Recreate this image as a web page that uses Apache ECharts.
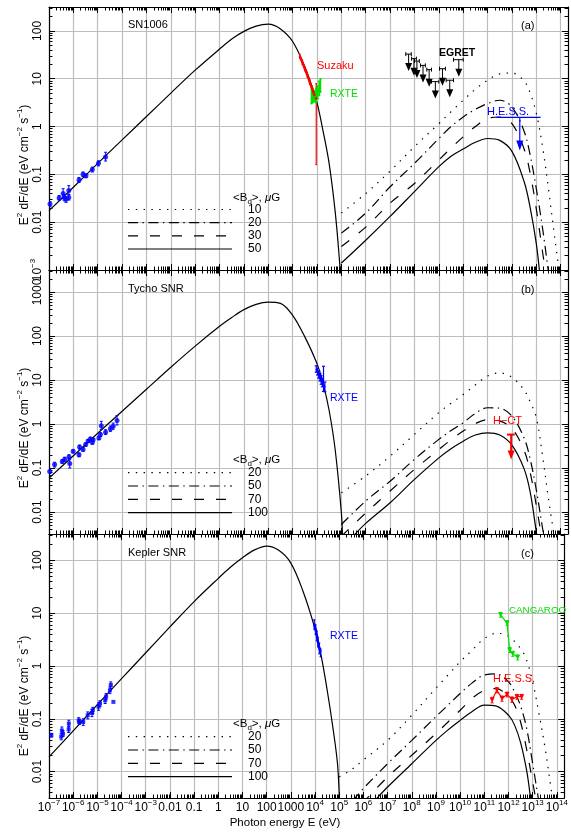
<!DOCTYPE html>
<html><head><meta charset="utf-8">
<script src="https://cdn.jsdelivr.net/npm/echarts@6/dist/echarts.min.js"></script>
<style>html,body{margin:0;padding:0;background:#fff}#c{width:571px;height:839px}</style>
</head><body><div id="c"></div><script>
// ---------------- data ----------------
const xMajor = [1e-7,1e-6,1e-5,1e-4,1e-3,1e-2,1e-1,1,10,100,1e3,1e4,1e5,1e6,1e7,1e8,1e9,1e10,1e11,1e12,1e13,1e14];
const yMajorA = [1e-3,1e-2,0.1,1,10,100];
const yMajorB = [1e-2,0.1,1,10,100,1000];
const yMajorC = [1e-2,0.1,1,10,100];
const panelNames = ['SN1006','Tycho SNR','Kepler SNR'];
const panelTags = ['(a)','(b)','(c)'];
const legendValsA = ['10','20','30','50'];
const legendValsB = ['20','50','70','100'];
const legendValsC = ['20','50','70','100'];

// Panel (a) SN1006
const syncA = [[1e-7,0.0174],[1e-6,0.0537],[1e-5,0.17],[1e-4,0.525],[1e-3,1.62],[1e-2,5.0],[0.1,15.1],[1,41.7],[3.16,67.6],[10,97.7],[31.6,126],[100,138],[316,110],[1000,60],[3160,17.8],[5620,7.94],[1e4,3.16],[1.78e4,0.794],[3.16e4,0.166],[5.62e4,0.0158],[8.5e4,1.41e-3],[1e5,4e-4]];
const icA10 = [[1e5,0.0155],[1e6,0.0398],[1e7,0.117],[1e8,0.38],[1e9,1.15],[3.16e9,2.04],[1e10,3.55],[3.16e10,6.03],[1e11,9.33],[3.16e11,12.6],[1e12,13.2],[3.16e12,8.91],[5.62e12,5.01],[1e13,1.9],[1.78e13,0.398],[3.16e13,0.05],[5.62e13,5e-3],[8.9e13,8.9e-4]];
const icA20 = [[1e5,5.9e-3],[1e6,0.0155],[1e7,0.055],[1e8,0.17],[1e9,0.562],[3.16e9,1.0],[1e10,1.585],[3.16e10,2.29],[1e11,3.02],[3.16e11,3.55],[1e12,2.57],[3.16e12,0.794],[5.62e12,0.251],[1e13,0.05],[1.78e13,7.9e-3],[3.16e13,8.9e-4]];
const icA30 = [[1e5,3.1e-3],[1e6,7.9e-3],[1e7,0.0251],[1e8,0.0646],[1e9,0.2],[3.16e9,0.355],[1e10,0.61],[3.16e10,1.0],[1e11,1.48],[3.16e11,1.585],[1e12,1.15],[3.16e12,0.339],[5.62e12,0.105],[1e13,0.019],[1.78e13,2.5e-3],[2.5e13,7.9e-4]];
const icA50 = [[1e5,1.4e-3],[1e6,4.2e-3],[1e7,0.0132],[1e8,0.0437],[1e9,0.145],[3.16e9,0.24],[1e10,0.339],[3.16e10,0.468],[1e11,0.562],[3.16e11,0.513],[1e12,0.302],[3.16e12,0.0708],[5.62e12,0.02],[1e13,3.55e-3],[1.4e13,7.9e-4]];
const radioA = [[1.1e-7,0.024,0.021,0.027],[2.6e-7,0.032,0.029,0.036],[3.8e-7,0.040,0.032,0.050],[4.2e-7,0.033,0.028,0.038],[5.0e-7,0.030,0.026,0.034],[6.5e-7,0.046,0.038,0.058],[6.5e-7,0.033,0.029,0.037],[1.7e-6,0.076,0.068,0.086],[2.5e-6,0.100,0.090,0.112],[3.3e-6,0.093,0.085,0.102],[6.0e-6,0.126,0.112,0.142],[1.07e-5,0.170,0.150,0.192],[2.1e-5,0.23,0.19,0.29]];
const suzakuA = [[1950,30,27,33],[2500,22,20,24.5],[3200,16,14.5,17.5],[4000,12,10.8,13.2],[5000,8.6,7.7,9.6],[6300,6.2,5.4,7],[7800,4.6,4,5.3],[9300,3.7,0.16,7.9]];
const rxteA = [[5900,4.47,3.02,7.08],[6600,4.17,3.16,6.31],[7400,3.98,3.31,5.25],[8300,4.17,3.31,5.62],[9300,4.37,3.16,6.31],[10700,5.01,3.8,7.08],[12300,6.03,4.47,8.91],[13800,7.08,5.25,10]];
const egretA = [[5.75e7,32.7,4.4e7,7.4e7],[9.5e7,26.3,7.6e7,1.2e8],[1.26e8,23.4,1e8,1.58e8],[2.24e8,19,1.78e8,2.8e8],[4e8,15.5,3.2e8,5e8],[7.2e8,8.7,5e8,1e9],[1.41e9,16.2,1.07e9,1.86e9],[2.8e9,9.3,2e9,4e9],[6.6e9,25,4e9,1e10]];
const hessA = [[2.1e12,1.55,2.3e11,1.5e13]];

// Panel (b) Tycho
const syncB = [[1e-7,0.059],[1e-6,0.19],[1e-5,0.617],[1e-4,1.95],[1e-3,6.17],[1e-2,19.5],[0.1,58.9],[1,166],[3.16,263],[10,398],[31.6,525],[100,589],[316,550],[1000,295],[3160,95.5],[1e4,23.4],[1.78e4,8.3],[3.16e4,2.0],[5.62e4,0.25],[1e5,9.5e-3],[1.12e5,2.5e-3]];
const icB20 = [[1e5,0.0275],[1e6,0.066],[1e7,0.186],[1e8,0.582],[1e9,1.82],[3.16e9,2.95],[1e10,4.68],[3.16e10,7.76],[1e11,12.3],[3.16e11,14.5],[1e12,11.5],[3.16e12,5.89],[5.62e12,3.16],[1e13,1.41],[1.78e13,0.2],[3.16e13,0.02],[5.62e13,2.5e-3]];
const icB50 = [[1e5,5.2e-3],[1e6,0.0178],[1e7,0.05],[1e8,0.158],[1e9,0.447],[3.16e9,0.708],[1e10,1.07],[3.16e10,1.74],[1e11,2.34],[3.16e11,2.29],[1e12,1.51],[3.16e12,0.479],[5.62e12,0.158],[1e13,0.0316],[1.78e13,4.5e-3],[2.24e13,2e-3]];
const icB70 = [[1e5,2.8e-3],[1e6,9.5e-3],[1e7,0.03],[1e8,0.093],[1e9,0.263],[3.16e9,0.437],[1e10,0.692],[3.16e10,1.02],[1e11,1.26],[3.16e11,1.175],[1e12,0.794],[3.16e12,0.251],[5.62e12,0.0794],[1e13,0.0141],[1.58e13,3.16e-3],[2e13,1.58e-3]];
const icB100 = [[3e5,2.8e-3],[1e6,5.5e-3],[1e7,0.0162],[1e8,0.055],[1e9,0.17],[3.16e9,0.275],[1e10,0.407],[3.16e10,0.562],[1e11,0.631],[3.16e11,0.562],[1e12,0.331],[3.16e12,0.0955],[5.62e12,0.0282],[1e13,3.55e-3],[1.26e13,1.6e-3]];
const radioB = [[1.07e-7,0.083,0.075,0.092],[1.7e-7,0.12,0.105,0.135],[3.5e-7,0.141,0.128,0.155],[4.4e-7,0.158,0.142,0.175],[6.6e-7,0.178,0.16,0.2],[7.1e-7,0.126,0.10,0.16],[9.8e-7,0.24,0.22,0.26],[1.7e-6,0.20,0.18,0.22],[1.8e-6,0.30,0.27,0.33],[2.5e-6,0.263,0.24,0.29],[3.2e-6,0.34,0.31,0.37],[4.0e-6,0.41,0.38,0.44],[5.0e-6,0.457,0.42,0.5],[6.0e-6,0.38,0.35,0.41],[6.5e-6,0.436,0.4,0.47],[1.12e-5,0.48,0.44,0.52],[1.29e-5,0.575,0.52,0.63],[1.4e-5,0.91,0.75,1.15],[2.1e-5,0.65,0.58,0.74],[3.3e-5,0.78,0.68,0.9],[4.3e-5,0.89,0.76,1.05],[6.2e-5,1.2,0.95,1.55]];
const rxteB = [[9300,17.8,15,21],[10500,15.5,13,18.5],[11800,13.5,11,16],[13200,11.5,9.5,14],[14800,10,8,12.5],[16500,8.7,7,11],[18500,7.8,5.5,20.5],[21000,6.8,5.4,9]];
const hctB = [[9.3e11,0.575,6.3e11,1.3e12]];

// Panel (c) Kepler
const syncC = [[1e-7,0.019],[1e-6,0.059],[1e-5,0.186],[1e-4,0.575],[1e-3,1.78],[1e-2,5.5],[0.1,16.6],[1,45.7],[3.16,74],[10,112],[31.6,158],[100,186],[316,155],[1000,89],[3160,26.3],[1e4,5.01],[1.78e4,1.585],[3.16e4,0.355],[5.62e4,0.063],[8.5e4,0.0141],[1e5,3.8e-3],[1.07e5,2e-3]];
const icC20 = [[1e5,7.9e-3],[3e5,0.0107],[1e6,0.0166],[1e7,0.039],[1e8,0.117],[1e9,0.38],[3.16e9,0.676],[1e10,1.2],[3.16e10,2.0],[1e11,3.31],[3.16e11,4.17],[1e12,3.63],[3.16e12,2.14],[5.62e12,1.29],[1e13,0.501],[1.78e13,0.132],[3.16e13,0.0302],[5.62e13,5.1e-3],[7.9e13,1.58e-3]];
const icC50 = [[3.5e5,2.75e-3],[1e6,4.8e-3],[1e7,0.0141],[1e8,0.039],[1e9,0.11],[3.16e9,0.182],[1e10,0.302],[3.16e10,0.479],[1e11,0.676],[3.16e11,0.708],[1e12,0.501],[1.78e12,0.324],[3.16e12,0.174],[5.62e12,0.066],[1e13,0.0141],[1.78e13,2.8e-3],[2.24e13,1.58e-3]];
const icC70 = [[9e5,2.5e-3],[1e7,7.9e-3],[1e8,0.0204],[1e9,0.0525],[3.16e9,0.087],[1e10,0.145],[3.16e10,0.245],[1e11,0.347],[3.16e11,0.372],[1e12,0.263],[1.78e12,0.182],[3.16e12,0.087],[5.62e12,0.0263],[1e13,6.3e-3],[1.58e13,2e-3]];
const icC100 = [[2.8e6,2.75e-3],[1e7,5.1e-3],[1e8,0.0141],[1e9,0.039],[3.16e9,0.0617],[1e10,0.0933],[3.16e10,0.138],[1e11,0.182],[3.16e11,0.174],[1e12,0.117],[1.78e12,0.0759],[3.16e12,0.0355],[5.62e12,0.0105],[7.9e12,3.55e-3],[1e13,1.58e-3]];
const radioC = [[1.26e-7,0.049,0.045,0.053],[3.2e-7,0.046,0.040,0.053],[3.4e-7,0.060,0.052,0.070],[3.8e-7,0.052,0.046,0.060],[6.5e-7,0.063,0.055,0.072],[6.6e-7,0.081,0.070,0.094],[1.7e-6,0.093,0.083,0.105],[1.8e-6,0.087,0.078,0.097],[2.6e-6,0.087,0.075,0.100],[4.0e-6,0.117,0.10,0.135],[6.0e-6,0.129,0.11,0.15],[6.5e-6,0.145,0.125,0.165],[1.12e-5,0.17,0.145,0.2],[1.29e-5,0.195,0.17,0.22],[2.1e-5,0.224,0.195,0.255],[2.3e-5,0.263,0.23,0.3],[3.3e-5,0.347,0.3,0.4],[3.6e-5,0.437,0.37,0.5],[4.6e-5,0.209,0.209,0.209]];
const rxteC = [[9300,6.3,5.0,7.5],[10500,5.0,4.0,6.0],[11800,3.8,3.0,4.6],[13200,2.9,2.3,3.5],[15000,2.2,1.7,2.7],[17000,1.8,1.5,2.1]];
const cangarooC = [[4.7e11,9.3,8.4,10.3],[8.7e11,6.5,5.9,7.2],[1.12e12,2.0,1.8,2.25],[1.5e12,1.7,1.52,1.9],[2.4e12,1.46,1.3,1.62]];
const hessC = [[2.1e11,0.226,0.2,0.255],[3.3e11,0.35,0.31,0.39],[5.4e11,0.243,0.215,0.27],[8.7e11,0.29,0.26,0.32],[1.38e12,0.233,0.205,0.26],[2.24e12,0.262,0.235,0.29],[3.5e12,0.262,0.235,0.29]];

// ---------------- layout / style ----------------
const FONT = '"Liberation Sans", Arial, Helvetica, sans-serif';
const X_MIN = 1e-7, X_MAX = 2e14;
const BLUE = '#0000ff', RED = '#ff0000', GREEN = '#00e000', GRID = '#bdbdbd';
const DOT = [1.4, 6.4], DASHDOT = [10, 4.5, 1.4, 4.5], DASH = [10, 12];
const panels = [
  {top: 7,   height: 263, yMin: 1e-3,    yMax: 316.23, yMajor: yMajorA},
  {top: 270, height: 264, yMin: 3.1623e-3, yMax: 3162.3, yMajor: yMajorB},
  {top: 534, height: 264, yMin: 3.1623e-3, yMax: 316.23, yMajor: yMajorC}
];

function minorsIn(lo, hi) {
  const out = [];
  for (let n = Math.floor(Math.log10(lo)) - 1; n <= Math.ceil(Math.log10(hi)); n++) {
    for (let k = 2; k <= 9; k++) {
      const v = Number((k * Math.pow(10, n)).toPrecision(3));
      if (v > lo * 1.0001 && v < hi * 0.9999) out.push(v);
    }
  }
  return out;
}
const xMinor = minorsIn(X_MIN, X_MAX);

function powLabel(v) {
  const n = Math.round(Math.log10(v));
  const plain = {'-2': '0.01', '-1': '0.1', '0': '1', '1': '10', '2': '100', '3': '1000'};
  if (plain[String(n)] !== undefined) return plain[String(n)];
  return '10{s|' + (n < 0 ? '\u2212' + (-n) : String(n)) + '}';
}
const labelStyle = {
  fontSize: 12, fontFamily: FONT, color: '#000', lineHeight: 18,
  rich: {s: {fontSize: 8, fontFamily: FONT, color: '#000', verticalAlign: 'top'}}
};

const xAxes = [], yAxes = [], grids = [];
panels.forEach((p, i) => {
  grids.push({left: 49, right: 3, top: p.top, height: p.height, containLabel: false});
  const base = {type: 'log', logBase: 10, gridIndex: i, min: X_MIN, max: X_MAX, silent: true,
    minorTick: {show: false}, minorSplitLine: {show: false}};
  const mk = (pos, major) => Object.assign({}, base, {
    position: pos,
    axisLine: {show: major, lineStyle: {color: '#000', width: 1.2}},
    axisTick: {show: true, inside: true, length: major ? 6 : 3.5, customValues: major ? xMajor : xMinor,
      lineStyle: {color: '#000', width: 1}},
    axisLabel: Object.assign({show: major && pos === 'bottom' && i === 2, customValues: xMajor,
      formatter: powLabel, margin: 1, showMinLabel: true, showMaxLabel: true}, labelStyle),
    splitLine: {show: major && pos === 'bottom', lineStyle: {color: GRID, width: 1.2}}
  });
  xAxes.push(mk('bottom', true), mk('top', true), mk('bottom', false), mk('top', false));
  const yMinor = minorsIn(p.yMin, p.yMax);
  const ybase = {type: 'log', logBase: 10, gridIndex: i, min: p.yMin, max: p.yMax, silent: true,
    minorTick: {show: false}, minorSplitLine: {show: false}};
  const mky = (pos, major) => Object.assign({}, ybase, {
    position: pos,
    axisLine: {show: major, lineStyle: {color: '#000', width: 1.2}},
    axisTick: {show: true, inside: true, length: major ? 6 : 3.5, customValues: major ? p.yMajor : yMinor,
      lineStyle: {color: '#000', width: 1}},
    axisLabel: Object.assign({show: major && pos === 'left', customValues: p.yMajor, rotate: 90,
      formatter: powLabel, margin: 2, showMinLabel: true, showMaxLabel: true}, labelStyle),
    splitLine: {show: major && pos === 'left', lineStyle: {color: GRID, width: 1.2}}
  });
  yAxes.push(mky('left', true), mky('right', true), mky('left', false), mky('right', false));
});

function curve(i, data, dash) {
  return {type: 'line', xAxisIndex: 4 * i, yAxisIndex: 4 * i, data: data, symbol: 'none', showSymbol: false,
    smooth: 0.35, clip: true, silent: true, z: 3,
    lineStyle: {color: '#000', width: 1.2, type: dash}};
}
function errBars(i, data, color, capHalf, lw) {
  return {type: 'custom', xAxisIndex: 4 * i, yAxisIndex: 4 * i, data: data, silent: true, z: 5, clip: true,
    encode: {x: 0, y: [1, 2, 3]},
    renderItem: function (params, api) {
      const x = api.value(0), lo = api.value(2), hi = api.value(3);
      if (lo === hi) return {type: 'group', children: []};
      const a = api.coord([x, lo]), b = api.coord([x, hi]);
      const st = {stroke: color, lineWidth: lw};
      return {type: 'group', children: [
        {type: 'line', shape: {x1: a[0], y1: a[1], x2: b[0], y2: b[1]}, style: st},
        {type: 'line', shape: {x1: a[0] - capHalf, y1: a[1], x2: a[0] + capHalf, y2: a[1]}, style: st},
        {type: 'line', shape: {x1: b[0] - capHalf, y1: b[1], x2: b[0] + capHalf, y2: b[1]}, style: st}
      ]};
    }};
}
function points(i, data, color, symbol, size, rotate) {
  return {type: 'scatter', xAxisIndex: 4 * i, yAxisIndex: 4 * i, silent: true, z: 6,
    data: data.map(d => [d[0], d[1]]), symbol: symbol, symbolSize: size, symbolRotate: rotate || 0,
    itemStyle: {color: color}};
}
function band(i, data, color, width, sym, symSize) {
  return {type: 'line', xAxisIndex: 4 * i, yAxisIndex: 4 * i, silent: true, z: 5,
    data: data.map(d => [d[0], d[1]]), symbol: sym || 'none', symbolSize: symSize || 0, symbolRotate: 180,
    showSymbol: !!sym, itemStyle: {color: color},
    lineStyle: {color: color, width: width}};
}
function upperLimits(i, data, o) {
  return {type: 'custom', xAxisIndex: 4 * i, yAxisIndex: 4 * i, data: data, silent: true, z: 6, clip: false,
    encode: {x: [0, 2, 3], y: 1},
    renderItem: function (params, api) {
      const e = api.value(0), f = api.value(1), lo = api.value(2), hi = api.value(3);
      const c = api.coord([e, f]), l = api.coord([lo, f]), r = api.coord([hi, f]);
      const st = {stroke: o.color, lineWidth: o.lw};
      const tip = c[1] + o.len;
      const ch = [
        {type: 'line', shape: {x1: l[0], y1: l[1], x2: r[0], y2: r[1]}, style: st},
        {type: 'line', shape: {x1: c[0], y1: c[1], x2: c[0], y2: tip - o.head + 1}, style: st},
        {type: 'polygon', shape: {points: [[c[0] - o.hw, tip - o.head], [c[0] + o.hw, tip - o.head], [c[0], tip]]},
          style: {fill: o.color}}
      ];
      if (o.endTick) {
        ch.push({type: 'line', shape: {x1: l[0], y1: l[1] - o.endTick, x2: l[0], y2: l[1] + o.endTick}, style: st});
        ch.push({type: 'line', shape: {x1: r[0], y1: r[1] - o.endTick, x2: r[0], y2: r[1] + o.endTick}, style: st});
      }
      return {type: 'group', children: ch};
    }};
}

const series = [
  // (a)
  curve(0, syncA, 'solid'), curve(0, icA10, DOT), curve(0, icA20, DASHDOT), curve(0, icA30, DASH), curve(0, icA50, 'solid'),
  errBars(0, radioA, BLUE, 1.5, 1), points(0, radioA, BLUE, 'circle', 5),
  band(0, suzakuA, RED, 2.5), errBars(0, suzakuA, RED, 0.8, 1.2),
  band(0, rxteA, GREEN, 1.5), errBars(0, rxteA, GREEN, 1, 1.6),
  upperLimits(0, egretA, {color: '#000', lw: 1, len: 17, head: 8, hw: 3.5, endTick: 2}),
  upperLimits(0, hessA, {color: BLUE, lw: 1.2, len: 33, head: 10, hw: 3.5}),
  // (b)
  curve(1, syncB, 'solid'), curve(1, icB20, DOT), curve(1, icB50, DASHDOT), curve(1, icB70, DASH), curve(1, icB100, 'solid'),
  errBars(1, radioB, BLUE, 1.5, 1), points(1, radioB, BLUE, 'circle', 5),
  band(1, rxteB, BLUE, 2), errBars(1, rxteB, BLUE, 1.5, 1.2),
  upperLimits(1, hctB, {color: RED, lw: 2, len: 25, head: 9, hw: 3.5}),
  // (c)
  curve(2, syncC, 'solid'), curve(2, icC20, DOT), curve(2, icC50, DASHDOT), curve(2, icC70, DASH), curve(2, icC100, 'solid'),
  errBars(2, radioC, BLUE, 1.5, 1), points(2, radioC, BLUE, 'rect', 4),
  band(2, rxteC, BLUE, 2.5), errBars(2, rxteC, BLUE, 1, 1.2),
  band(2, cangarooC, GREEN, 1.2, 'triangle', 5), errBars(2, cangarooC, GREEN, 1.5, 1),
  band(2, hessC, RED, 1.2, 'triangle', 5), errBars(2, hessC, RED, 1.5, 1)
];

// ---------------- annotations ----------------
const g = [];
function txt(x, y, text, opt) {
  g.push({type: 'text', x: x, y: y, z: 20, silent: true, rotation: (opt && opt.rot) || 0,
    style: Object.assign({text: text, fill: '#000', fontSize: 11, fontFamily: FONT,
      align: 'left', verticalAlign: 'middle'}, opt && opt.style)});
}
const nameY = [25, 289, 553];
panelNames.forEach((n, i) => { txt(128, nameY[i], n); txt(521, nameY[i] + 0.5, panelTags[i]); });
const titleY = [165, 428, 696];
titleY.forEach(y => txt(25, y, 'E{s|2} dF/dE (eV cm{s|\u22122} s{s|\u22121})', {rot: Math.PI / 2,
  style: {align: 'center', fontSize: 12, lineHeight: 18,
    rich: {s: {fontSize: 8, fontFamily: FONT, fill: '#000', verticalAlign: 'top'}}}}));
txt(285, 823, 'Photon energy E (eV)', {style: {align: 'center', fontSize: 11.5}});

// in-panel data labels
txt(317, 66, 'Suzaku', {style: {fill: RED}});
txt(330, 94.5, 'RXTE', {style: {fill: GREEN, fontSize: 10.5}});
txt(439, 53, 'EGRET', {style: {fontWeight: 'bold', fontSize: 10.5}});
txt(487, 112, 'H.E.S.S.', {style: {fill: BLUE}});
txt(330, 398.5, 'RXTE', {style: {fill: BLUE, fontSize: 10.5}});
txt(493, 421, 'H\u2212CT', {style: {fill: RED}});
txt(330, 636, 'RXTE', {style: {fill: BLUE, fontSize: 10.5}});
txt(509, 610, 'CANGAROO', {style: {fill: GREEN, fontSize: 9.8}});
txt(493, 679, 'H.E.S.S.', {style: {fill: RED}});

// legends
const legendHeaderY = [197.5, 460, 723.5];
const legendRowY = [[209.5, 222.7, 235.8, 249], [472.7, 486, 499.3, 512.7], [736.7, 750, 763.3, 776.7]];
const legendVals = [legendValsA, legendValsB, legendValsC];
const dashes = [DOT, DASHDOT, DASH, null];
[0, 1, 2].forEach(i => {
  txt(233, legendHeaderY[i], '<B{d|d}>, {m|\u03bc}G', {style: {fontSize: 11.5, lineHeight: 16,
    rich: {d: {fontSize: 8, fontFamily: FONT, fill: '#000', verticalAlign: 'bottom'},
           m: {fontSize: 11.5, fontFamily: FONT, fill: '#000', fontStyle: 'italic'}}}});
  legendRowY[i].forEach((y, k) => {
    g.push({type: 'line', z: 20, silent: true, shape: {x1: 128, y1: y, x2: 232, y2: y},
      style: {stroke: '#000', lineWidth: 1.2, lineDash: dashes[k] || null}});
    txt(248, y, legendVals[i][k], {style: {fontSize: 12}});
  });
});

const chart = echarts.init(document.getElementById('c'), null, {renderer: 'canvas', width: 571, height: 839});
chart.setOption({
  animation: false,
  backgroundColor: '#fff',
  grid: grids,
  xAxis: xAxes,
  yAxis: yAxes,
  series: series,
  graphic: g
});
</script></body></html>
